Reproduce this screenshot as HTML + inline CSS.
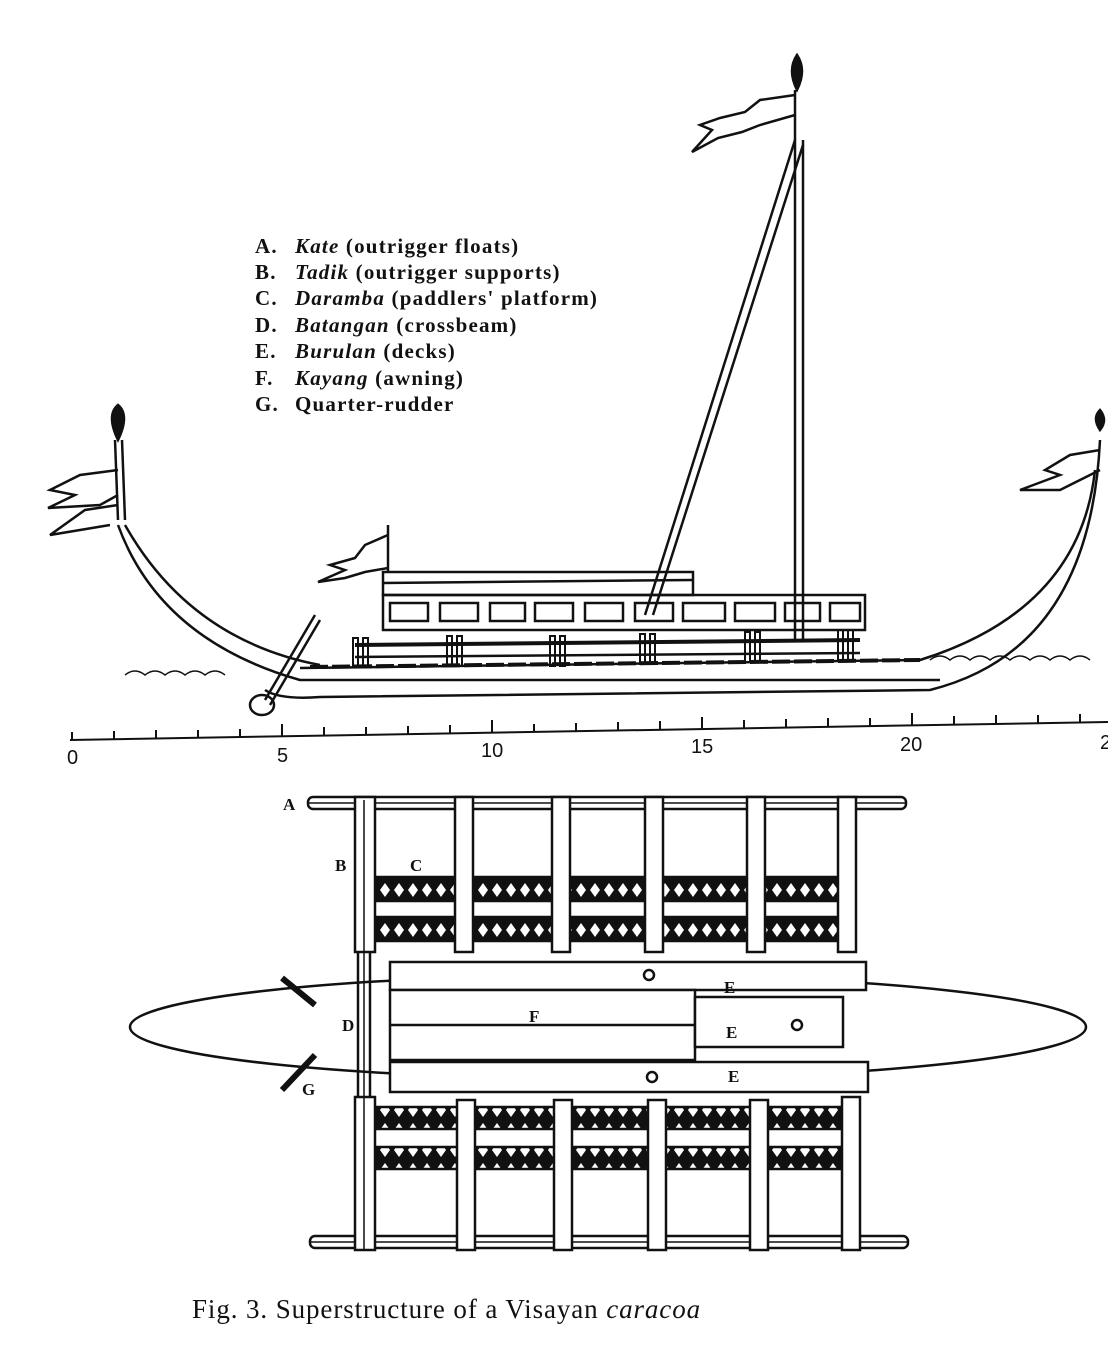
<!DOCTYPE html>
<html><head><meta charset="utf-8"><style>
html,body{margin:0;padding:0;background:#fff;}
svg{display:block;}
text{font-family:"Liberation Serif",serif;fill:#111;}
text.sans{font-family:"Liberation Sans",sans-serif;}
</style></head><body>
<svg width="1108" height="1358" viewBox="0 0 1108 1358" xmlns="http://www.w3.org/2000/svg">
<defs>
<pattern id="lat" width="14" height="20" patternUnits="userSpaceOnUse">
<rect width="14" height="20" fill="#111"/>
<path d="M7 3 L12 10 L7 17 L2 10 Z" fill="#fff"/>
</pattern>
</defs>
<g font-size="21" font-weight="bold" letter-spacing="1.2">
<text x="255" y="253">A.</text><text x="295" y="253"><tspan font-style="italic">Kate</tspan> (outrigger floats)</text>
<text x="255" y="279">B.</text><text x="295" y="279"><tspan font-style="italic">Tadik</tspan> (outrigger supports)</text>
<text x="255" y="305">C.</text><text x="295" y="305"><tspan font-style="italic">Daramba</tspan> (paddlers' platform)</text>
<text x="255" y="332">D.</text><text x="295" y="332"><tspan font-style="italic">Batangan</tspan> (crossbeam)</text>
<text x="255" y="358">E.</text><text x="295" y="358"><tspan font-style="italic">Burulan</tspan> (decks)</text>
<text x="255" y="385">F.</text><text x="295" y="385"><tspan font-style="italic">Kayang</tspan> (awning)</text>
<text x="255" y="411">G.</text><text x="295" y="411">Quarter-rudder</text>
</g>
<g fill="none" stroke="#111" stroke-width="2.5">
<line x1="795" y1="90" x2="795" y2="640"/><line x1="803" y1="140" x2="803" y2="640"/>
<path d="M797 55 q-10 15 0 35 q10 -20 0 -35z" fill="#111"/>
<line x1="795" y1="140" x2="645" y2="615"/><line x1="803" y1="145" x2="653" y2="615"/>
<path d="M795 95 L760 100 L745 112 L720 118 L700 125 L712 130 L692 152 L718 138 L742 132 L760 125 L795 115"/>
<path d="M118 440 q-12 -25 0 -35 q12 10 0 35z" fill="#111"/>
<line x1="115" y1="440" x2="118" y2="520"/><line x1="122" y1="440" x2="125" y2="520"/>
<path d="M118 470 L80 475 L50 490 L75 495 L48 508 L100 505 L118 495"/>
<path d="M118 505 L85 510 L50 535 L110 525"/>
<path d="M118 525 Q160 640 300 680 L940 680"/>
<path d="M125 525 Q190 640 320 665"/>
<path d="M265 690 Q280 700 320 697 L930 690 Q1090 650 1100 440"/>
<path d="M300 668 L920 660 Q1080 610 1095 470"/>
<path d="M1100 430 q-8 -12 0 -20 q8 10 0 20z" fill="#111"/>
<path d="M1100 450 L1070 455 L1045 470 L1060 475 L1020 490 L1060 490 L1100 470"/>
<line x1="265" y1="700" x2="315" y2="615"/><line x1="270" y1="705" x2="320" y2="620"/>
<ellipse cx="262" cy="705" rx="12" ry="10"/>
<path d="M125 675 q10 -8 20 0 q10 -8 20 0 q10 -8 20 0 q10 -8 20 0 q10 -8 20 0" stroke-width="1.5"/>
<path d="M930 660 q10 -8 20 0 q10 -8 20 0 q10 -8 20 0 q10 -8 20 0 q10 -8 20 0 q10 -8 20 0 q10 -8 20 0 q10 -8 20 0" stroke-width="1.5"/>
<rect x="383" y="572" width="310" height="23"/>
<line x1="383" y1="583" x2="693" y2="580"/>
<line x1="388" y1="525" x2="388" y2="572"/>
<path d="M388 535 L365 545 L355 558 L330 565 L345 570 L318 582 L345 578 L365 572 L388 568"/>
<rect x="383" y="595" width="482" height="35"/>
<rect x="390" y="603" width="38" height="18"/><rect x="440" y="603" width="38" height="18"/><rect x="490" y="603" width="35" height="18"/><rect x="535" y="603" width="38" height="18"/><rect x="585" y="603" width="38" height="18"/><rect x="635" y="603" width="38" height="18"/><rect x="683" y="603" width="42" height="18"/><rect x="735" y="603" width="40" height="18"/><rect x="785" y="603" width="35" height="18"/><rect x="830" y="603" width="30" height="18"/>
<line x1="355" y1="645" x2="860" y2="640" stroke-width="4"/>
<line x1="355" y1="657" x2="860" y2="653"/>
<line x1="310" y1="667" x2="920" y2="660" stroke-width="4" stroke-dasharray="18 4"/>
<g stroke-width="2">
<rect x="353" y="638" width="5" height="28"/><rect x="363" y="638" width="5" height="28"/>
<rect x="447" y="636" width="5" height="30"/><rect x="457" y="636" width="5" height="30"/>
<rect x="550" y="636" width="5" height="30"/><rect x="560" y="636" width="5" height="30"/>
<rect x="640" y="634" width="5" height="30"/><rect x="650" y="634" width="5" height="30"/>
<rect x="745" y="632" width="5" height="30"/><rect x="755" y="632" width="5" height="30"/>
<rect x="838" y="630" width="5" height="30"/><rect x="848" y="630" width="5" height="30"/>
</g>
<path d="M70 740 L1108 722" stroke-width="2"/>
</g>
<g stroke="#111" stroke-width="2">
<line x1="72" y1="740" x2="72" y2="732"/><line x1="114" y1="739" x2="114" y2="731"/><line x1="156" y1="738" x2="156" y2="730"/><line x1="198" y1="738" x2="198" y2="730"/><line x1="240" y1="737" x2="240" y2="729"/><line x1="282" y1="736" x2="282" y2="724"/><line x1="324" y1="735" x2="324" y2="727"/><line x1="366" y1="735" x2="366" y2="727"/><line x1="408" y1="734" x2="408" y2="726"/><line x1="450" y1="733" x2="450" y2="725"/><line x1="492" y1="732" x2="492" y2="720"/><line x1="534" y1="732" x2="534" y2="724"/><line x1="576" y1="731" x2="576" y2="723"/><line x1="618" y1="730" x2="618" y2="722"/><line x1="660" y1="729" x2="660" y2="721"/><line x1="702" y1="729" x2="702" y2="717"/><line x1="744" y1="728" x2="744" y2="720"/><line x1="786" y1="727" x2="786" y2="719"/><line x1="828" y1="726" x2="828" y2="718"/><line x1="870" y1="726" x2="870" y2="718"/><line x1="912" y1="725" x2="912" y2="713"/><line x1="954" y1="724" x2="954" y2="716"/><line x1="996" y1="723" x2="996" y2="715"/><line x1="1038" y1="723" x2="1038" y2="715"/><line x1="1080" y1="722" x2="1080" y2="714"/>
</g>
<g font-size="20">
<text class="sans" x="67" y="764">0</text>
<text class="sans" x="277" y="762">5</text>
<text class="sans" x="481" y="757">10</text>
<text class="sans" x="691" y="753">15</text>
<text class="sans" x="900" y="751">20</text>
<text class="sans" x="1100" y="749">2</text>
</g>
<g fill="none" stroke="#111" stroke-width="2.5">
<ellipse cx="608" cy="1027" rx="478" ry="52"/>
<rect x="308" y="797" width="598" height="12" rx="5" fill="#fff"/>
<line x1="308" y1="803" x2="906" y2="803" stroke-width="1.5"/>
<rect x="310" y="1236" width="598" height="12" rx="5" fill="#fff"/>
<line x1="310" y1="1242" x2="908" y2="1242" stroke-width="1.5"/>
<rect x="372" y="877" width="470" height="24" fill="url(#lat)"/>
<rect x="372" y="917" width="470" height="24" fill="url(#lat)"/>
<rect x="372" y="1107" width="470" height="22" fill="url(#lat)"/>
<rect x="372" y="1147" width="470" height="22" fill="url(#lat)"/>
<line x1="358" y1="800" x2="358" y2="1250"/><line x1="370" y1="800" x2="370" y2="1250"/>
<g fill="#fff">
<rect x="355" y="797" width="20" height="155"/><rect x="455" y="797" width="18" height="155"/><rect x="552" y="797" width="18" height="155"/><rect x="645" y="797" width="18" height="155"/><rect x="747" y="797" width="18" height="155"/><rect x="838" y="797" width="18" height="155"/>
<rect x="355" y="1097" width="20" height="153"/><rect x="457" y="1100" width="18" height="150"/><rect x="554" y="1100" width="18" height="150"/><rect x="648" y="1100" width="18" height="150"/><rect x="750" y="1100" width="18" height="150"/><rect x="842" y="1097" width="18" height="153"/>
<rect x="390" y="962" width="476" height="28"/>
<rect x="390" y="990" width="305" height="70"/>
<rect x="695" y="997" width="148" height="50"/>
<rect x="390" y="1062" width="478" height="30"/>
</g>
<line x1="390" y1="1025" x2="695" y2="1025"/>
<line x1="364" y1="800" x2="364" y2="1250" stroke-width="1.5"/>
<circle cx="649" cy="975" r="5"/><circle cx="797" cy="1025" r="5"/><circle cx="652" cy="1077" r="5"/>
<line x1="282" y1="978" x2="315" y2="1005" stroke-width="6"/>
<line x1="282" y1="1090" x2="315" y2="1055" stroke-width="6"/>
</g>
<g font-size="17" font-weight="bold">
<text x="283" y="810">A</text><text x="335" y="871">B</text><text x="410" y="871">C</text>
<text x="342" y="1031">D</text><text x="724" y="993">E</text><text x="726" y="1038">E</text><text x="728" y="1082">E</text>
<text x="529" y="1022">F</text><text x="302" y="1095">G</text>
</g>
<text x="192" y="1318" font-size="27" letter-spacing="0.9">Fig. 3.  Superstructure of a Visayan <tspan font-style="italic">caracoa</tspan></text>
</svg>
</body></html>
